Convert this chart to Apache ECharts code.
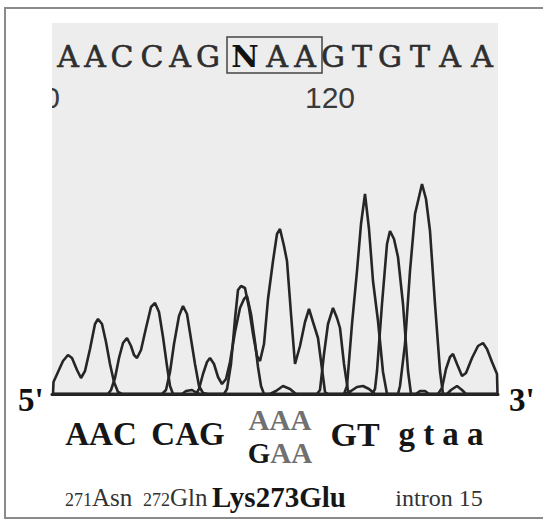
<!DOCTYPE html>
<html>
<head>
<meta charset="utf-8">
<script src="https://cdn.jsdelivr.net/npm/echarts@6/dist/echarts.min.js"></script>
<style>
html,body{margin:0;padding:0;background:#fff;overflow:hidden;}
#chart{width:543px;height:521px;}
</style>
</head>
<body>
<div id="chart"></div>
<script>
// ---- data ----
// base calls printed above the trace and their scan positions
const baseCalls = ['A','A','C','C','A','G','N','A','A','G','T','G','T','A','A'];
const callScans = [68,95,122,152,180,208,245,277,305,333,362,390,420,450,482];
// base-number tick labels
const tickBases = [110, 120];
// chromatogram traces: [scan, signal]
const traceA = [[53,0],[53.5,12],[58,22],[63,33],[68,39],[72,36],[77,24],[81,16],[85,23],[90,45],[95,70],[98,75],[102,70],[106,52],[110,30],[114,12],[118,2],[122,0],[162,0],[166,4],[170,22],[174,50],[179,78],[183,88],[187,80],[191,55],[195,30],[199,8],[203,1],[208,0],[224,0],[227,5],[231,30],[235,75],[238,104],[241,108],[245,106],[249,86],[253,60],[257,38],[260,33],[264,50],[268,95],[273,133],[277,160],[280,165],[284,148],[287,133],[291,80],[295,30],[300,48],[305,72],[309,85],[313,72],[318,56],[322,25],[325,2],[328,0],[438,0],[442,6],[446,25],[450,37],[453,40],[457,30],[462,18],[466,21],[472,36],[478,48],[483,51],[487,45],[492,32],[497,20],[497.5,0]];
const traceC = [[53,0],[108,0],[111,4],[115,16],[119,36],[123,51],[127,56],[131,48],[134,39],[137,36],[141,44],[146,66],[151,87],[155,91],[159,82],[163,57],[167,28],[170,8],[173,0],[182,0],[186,3],[192,4],[197,1],[200,0],[270,0],[276,3],[283,8],[290,5],[296,0],[345,0],[351,3],[357,7],[363,8],[369,5],[375,0],[416,0],[420,3],[425,3],[429,0],[447,0],[451,4],[457,8],[462,4],[466,0],[497,0]];
const traceG = [[53,0],[196,0],[199,5],[203,20],[207,32],[210,36],[214,30],[218,17],[222,10],[226,15],[230,32],[235,62],[240,86],[244,95],[247,98],[251,80],[255,52],[258,27],[261,8],[264,0],[317,0],[320,4],[324,40],[328,70],[333,86],[337,76],[340,66],[344,30],[348,3],[351,0],[372,0],[375,5],[377,23],[382,90],[387,150],[390,163],[394,155],[398,137],[403,90],[408,23],[411,0],[497,0]];
const traceT = [[53,0],[344,0],[347,8],[352,70],[357,123],[361,170],[365,200],[369,165],[373,113],[378,73],[383,22],[387,0],[398,0],[400,8],[405,50],[410,123],[415,180],[422,210],[426,195],[430,163],[435,90],[440,23],[443,0],[497,0]];
// annotation texts
const codons = ['AAC', 'CAG', 'GT', 'g t a a'];
const altCodons = ['AAA', 'GAA'];
const residueNums = ['271', '272'];
const residueNames = ['Asn', 'Gln'];
const mutation = 'Lys273Glu';
const intronLabel = 'intron 15';
const ends = ["5'", "3'"];

// ---- chart ----
const chart = echarts.init(document.getElementById('chart'), null, {renderer: 'svg'});
const serif = '"Liberation Serif", "Times New Roman", serif';
const slab = '"DejaVu Serif", serif';
const traceStyle = {color: '#262626', width: 2.6};
function traceSeries(name, data) {
  return {name, type: 'line', data, showSymbol: false, symbol: 'none', clip: false,
    lineStyle: traceStyle, silent: true, z: 3};
}
function gText(text, x, y, font, color, align) {
  return {type: 'text', x, y, z: 10, style: {text, fill: color, font, textAlign: align || 'center',
    align: align || 'center', textVerticalAlign: 'middle', verticalAlign: 'middle'}};
}

chart.setOption({
  animation: false,
  grid: {left: 52, right: 45, top: 23, bottom: 127, show: true, backgroundColor: '#ededed', borderWidth: 0},
  xAxis: [
    {type: 'value', min: 52, max: 498, axisLine: {show: true, lineStyle: {color: '#222', width: 3}},
      axisTick: {show: false}, axisLabel: {show: false}, splitLine: {show: false}},
    {type: 'value', min: 110.544, max: 125.714, show: false, splitLine: {show: false}}
  ],
  yAxis: {type: 'value', min: 0, max: 371, show: false, splitLine: {show: false}},
  series: [
    traceSeries('A', traceA),
    traceSeries('C', traceC),
    traceSeries('G', traceG),
    traceSeries('T', traceT),
    {type: 'custom', name: 'calls', xAxisIndex: 0, clip: false, z: 5,
      data: callScans.map((s) => [s, 0]), encode: {x: 0, y: 1},
      renderItem: (params, api) => {
        const i = params.dataIndex;
        const pt = api.coord([api.value(0), 0]);
        return {type: 'text', x: pt[0], y: 56, style: {text: baseCalls[i], fill: i === 6 ? '#111' : '#2e2e2e',
          stroke: i === 6 ? 'none' : '#2e2e2e', lineWidth: 0.6,
          font: (i === 6 ? 'bold ' : '') + '30px ' + slab,
          align: 'center', verticalAlign: 'middle', textAlign: 'center', textVerticalAlign: 'middle'}};
      }},
    {type: 'custom', name: 'box', xAxisIndex: 0, clip: false, z: 5,
      data: [[callScans[6], callScans[8]]], encode: {x: [0, 1]},
      renderItem: (params, api) => {
        const a = api.coord([api.value(0), 0]);
        const b = api.coord([api.value(1), 0]);
        return {type: 'rect', shape: {x: a[0] - 18, y: 37, width: b[0] - a[0] + 35, height: 36},
          style: {fill: 'none', stroke: '#444', lineWidth: 1.5}};
      }},
    {type: 'custom', name: 'ticks', xAxisIndex: 1, clip: true, z: 5,
      data: tickBases.map((b) => [b, 0]), encode: {x: 0, y: 1},
      renderItem: (params, api) => {
        const pt = api.coord([api.value(0), 0]);
        return {type: 'text', x: pt[0], y: 97, style: {text: String(tickBases[params.dataIndex]), fill: '#3a3a3a',
          font: '30px "Liberation Sans", Arial, sans-serif',
          align: 'center', verticalAlign: 'middle', textAlign: 'center', textVerticalAlign: 'middle'}};
      }}
  ],
  graphic: [
    {type: 'polyline', shape: {points: [[600, 8], [5, 8], [5, 518], [600, 518]]}, z: 1,
      style: {fill: 'none', stroke: '#8a8a8a', lineWidth: 2}},
    gText(ends[0], 18, 400, 'bold 33px ' + serif, '#111', 'left'),
    gText(ends[1], 509, 400, 'bold 33px ' + serif, '#111', 'left'),
    gText(codons[0], 101, 434, 'bold 33px ' + serif, '#161616'),
    gText(codons[1], 188, 434, 'bold 33px ' + serif, '#161616'),
    gText(codons[2], 355, 434, 'bold 34px ' + serif, '#161616'),
    gText(codons[3], 441, 434, 'bold 33px ' + serif, '#161616'),
    {type: 'text', x: 280, y: 436, z: 10, style: {
      text: '{g|' + altCodons[0] + '}\n{k|' + altCodons[1][0] + '}{g|' + altCodons[1].slice(1) + '}',
      textAlign: 'center', align: 'center', textVerticalAlign: 'middle', verticalAlign: 'middle',
      font: 'bold 29px ' + serif, lineHeight: 33,
      rich: {k: {fill: '#161616', fontFamily: serif, fontSize: 29, fontWeight: 'bold', lineHeight: 33},
             g: {fill: '#707070', fontFamily: serif, fontSize: 29, fontWeight: 'bold', lineHeight: 33}}}},
    gText(residueNums[0], 65, 500, '18px ' + serif, '#333', 'left'),
    gText(residueNames[0], 92, 497.5, '25px ' + serif, '#333', 'left'),
    gText(residueNums[1], 143, 500, '18px ' + serif, '#333', 'left'),
    gText(residueNames[1], 170, 497.5, '25px ' + serif, '#333', 'left'),
    gText(mutation, 279, 497, 'bold 29px ' + serif, '#161616'),
    gText(intronLabel, 439, 498, '24px ' + serif, '#333')
  ]
});
</script>
</body>
</html>
